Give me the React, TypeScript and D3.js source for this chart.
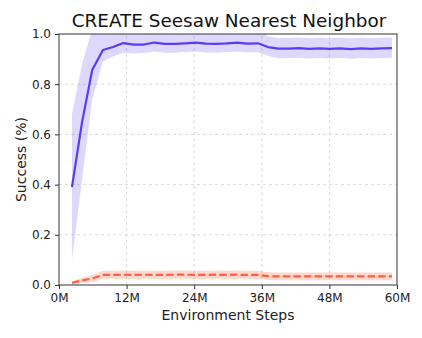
import React, { useEffect, useRef } from 'react';
import * as d3 from 'd3';

// environment steps, in millions
const steps = [2.3, 4.1, 5.9, 7.8, 9.6, 11.4, 13.3, 15.1, 16.9, 18.8, 20.6, 22.4, 24.3, 26.1, 27.9, 29.8,
  31.6, 33.4, 35.3, 37.1, 38.9, 40.8, 42.6, 44.4, 46.3, 48.1, 49.9, 51.8, 53.6, 55.4, 57.3, 59.1];

const ourMean = [0.39, 0.65, 0.857, 0.936, 0.948, 0.964, 0.958, 0.958, 0.966, 0.961, 0.961, 0.963, 0.966, 0.962,
  0.961, 0.963, 0.966, 0.962, 0.963, 0.948, 0.942, 0.942, 0.944, 0.941, 0.943, 0.941, 0.943, 0.940, 0.943, 0.941, 0.943, 0.944];
const ourLow = [0.10, 0.42, 0.74, 0.89, 0.91, 0.925, 0.922, 0.924, 0.93, 0.925, 0.925, 0.928, 0.93, 0.926, 0.925,
  0.928, 0.93, 0.926, 0.927, 0.912, 0.903, 0.903, 0.905, 0.902, 0.904, 0.902, 0.904, 0.901, 0.904, 0.902, 0.904, 0.905];
const ourHigh = [0.68, 0.88, 1.02, 1.03, 1.03, 1.03, 1.03, 1.03, 1.03, 1.03, 1.03, 1.03, 1.03, 1.03, 1.03,
  1.03, 1.03, 1.03, 1.03, 0.99, 0.984, 0.984, 0.986, 0.983, 0.985, 0.983, 0.985, 0.982, 0.985, 0.983, 0.985, 0.986];

const nnMean = [0.009, 0.018, 0.026, 0.04, 0.04, 0.041, 0.04, 0.041, 0.04, 0.04, 0.041, 0.041, 0.04, 0.04, 0.041,
  0.04, 0.041, 0.04, 0.04, 0.035, 0.034, 0.034, 0.034, 0.034, 0.034, 0.034, 0.034, 0.034, 0.034, 0.034, 0.034, 0.034];
const nnLow = [0.002, 0.008, 0.012, 0.024, 0.024, 0.025, 0.024, 0.025, 0.024, 0.024, 0.025, 0.025, 0.024, 0.024,
  0.025, 0.024, 0.025, 0.024, 0.024, 0.02, 0.019, 0.019, 0.019, 0.019, 0.019, 0.019, 0.019, 0.019, 0.019, 0.019, 0.019, 0.019];
const nnHigh = [0.016, 0.028, 0.04, 0.057, 0.057, 0.058, 0.057, 0.058, 0.057, 0.057, 0.058, 0.058, 0.057, 0.057,
  0.058, 0.057, 0.058, 0.057, 0.057, 0.051, 0.05, 0.05, 0.05, 0.05, 0.05, 0.05, 0.05, 0.05, 0.05, 0.05, 0.05, 0.05];

const xTicks = [0, 12, 24, 36, 48, 60];
const yTicks = [0, 0.2, 0.4, 0.6, 0.8, 1.0];

const W = 422;
const H = 338;
const margin = { top: 34, right: 25, bottom: 53, left: 59 };

export default function App() {
  const ref = useRef<SVGSVGElement>(null);

  useEffect(() => {
    const svg = d3.select(ref.current);
    svg.selectAll('*').remove();
    const font = 'DejaVu Sans, sans-serif';

    const x = d3.scaleLinear().domain([0, 60]).range([margin.left, W - margin.right]);
    const y = d3.scaleLinear().domain([0, 1]).range([H - margin.bottom, margin.top]);

    svg.append('rect').attr('width', W).attr('height', H).attr('fill', '#fff');

    svg.append('clipPath').attr('id', 'plot-clip')
      .append('rect')
      .attr('x', x(0)).attr('y', y(1))
      .attr('width', x(60) - x(0)).attr('height', y(0) - y(1));

    // grid
    const grid = svg.append('g').attr('stroke', '#d0d0d0').attr('stroke-dasharray', '3,3').attr('stroke-width', 0.8);
    grid.selectAll('line.gx').data(xTicks.slice(1, -1)).join('line')
      .attr('x1', d => x(d)).attr('x2', d => x(d)).attr('y1', y(0)).attr('y2', y(1));
    grid.selectAll('line.gy').data(yTicks.slice(1, -1)).join('line').attr('class', 'gy')
      .attr('y1', d => y(d)).attr('y2', d => y(d)).attr('x1', x(0)).attr('x2', x(60));

    const idx = d3.range(steps.length);
    const plot = svg.append('g').attr('clip-path', 'url(#plot-clip)');

    const series = [
      { mean: nnMean, low: nnLow, high: nnHigh, color: '#fa6040', fillOpacity: 0.25, dash: '7.4,3.2' },
      { mean: ourMean, low: ourLow, high: ourHigh, color: '#5b3cf5', fillOpacity: 0.2, dash: null },
    ];

    series.forEach(s => {
      const area = d3.area<number>()
        .x(i => x(steps[i]))
        .y0(i => y(s.low[i]))
        .y1(i => y(s.high[i]));
      plot.append('path').datum(idx).attr('d', area)
        .attr('fill', s.color).attr('fill-opacity', s.fillOpacity);
    });
    series.forEach(s => {
      const line = d3.line<number>().x(i => x(steps[i])).y(i => y(s.mean[i]));
      plot.append('path').datum(idx).attr('d', line)
        .attr('fill', 'none').attr('stroke', s.color).attr('stroke-width', 2.2)
        .attr('stroke-linejoin', 'round')
        .attr('stroke-dasharray', s.dash);
    });

    // axes
    const xAxis = svg.append('g').attr('transform', `translate(0,${y(0)})`)
      .call(d3.axisBottom(x).tickValues(xTicks).tickFormat(d => `${d}M`).tickSize(4).tickPadding(4));
    const yAxis = svg.append('g').attr('transform', `translate(${x(0)},0)`)
      .call(d3.axisLeft(y).tickValues(yTicks).tickFormat(d3.format('.1f')).tickSize(4).tickPadding(4));
    [xAxis, yAxis].forEach(a => {
      a.select('.domain').remove();
      a.selectAll('line').attr('stroke', '#333');
      a.selectAll('text').attr('font-family', font).attr('font-size', 12).attr('fill', '#222');
    });

    svg.append('rect')
      .attr('x', x(0)).attr('y', y(1))
      .attr('width', x(60) - x(0)).attr('height', y(0) - y(1))
      .attr('fill', 'none').attr('stroke', '#333').attr('stroke-width', 1);

    svg.append('text')
      .attr('x', (x(0) + x(60)) / 2).attr('y', 320)
      .attr('text-anchor', 'middle').attr('font-family', font).attr('font-size', 14).attr('fill', '#222')
      .text('Environment Steps');

    svg.append('text')
      .attr('transform', `translate(25.5,${(y(0) + y(1)) / 2}) rotate(-90)`)
      .attr('text-anchor', 'middle').attr('font-family', font).attr('font-size', 14).attr('fill', '#222')
      .text('Success (%)');

    svg.append('text')
      .attr('x', (x(0) + x(60)) / 2 + 1).attr('y', 26.5)
      .attr('text-anchor', 'middle').attr('font-family', font).attr('font-size', 18.4).attr('fill', '#111')
      .text('CREATE Seesaw Nearest Neighbor');
  }, []);

  return (
    <svg ref={ref} width={W} height={H} style={{ display: 'block', margin: '-8px' }} />
  );
}
